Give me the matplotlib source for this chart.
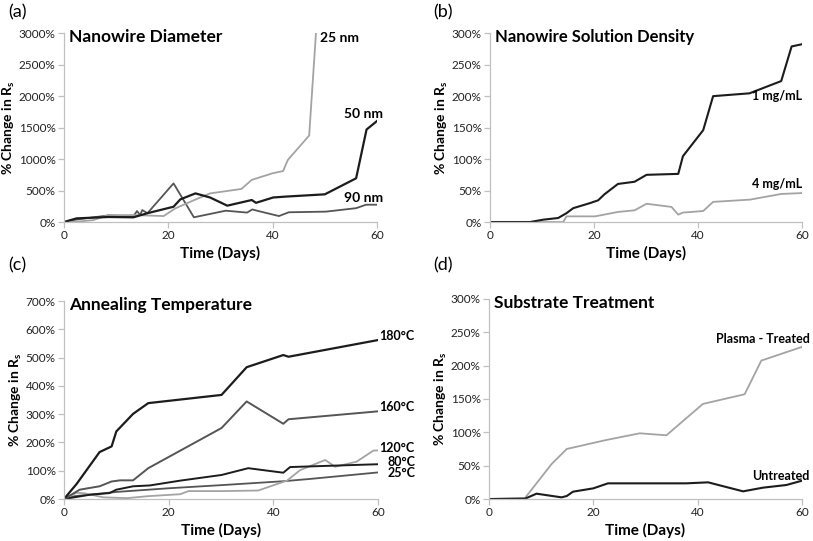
import matplotlib
matplotlib.use("Agg")
from matplotlib import pyplot as plt
from matplotlib.ticker import FuncFormatter

plt.rcParams['font.family'] = ['Lato', 'DejaVu Sans']
plt.rcParams['mathtext.fontset'] = 'custom'
plt.rcParams['mathtext.rm'] = 'Lato'
plt.rcParams['mathtext.bf'] = 'Lato:bold'

BLACK = '#1c1c1c'
DARK = '#555555'
LIGHT = '#a3a3a3'

# (a) nanowire diameter
d25_days = [0, 3, 5.6, 8.5, 13.5, 19.1, 21.3, 25, 28, 34, 36, 40, 42, 42.9, 47, 48.3]
d25_vals = [0, 10, 30, 110, 110, 95, 215, 350, 455, 525, 670, 775, 810, 985, 1375, 3000]
d50_days = [0, 2.4, 8.5, 13.3, 16, 21, 22.3, 25.2, 28, 31.3, 36, 36.8, 40.1, 42.7, 50, 56, 58, 60]
d50_vals = [0, 58, 80, 75, 140, 243, 360, 455, 390, 260, 350, 305, 390, 405, 440, 695, 1470, 1605]
d90_days = [0, 2.4, 8.5, 13.3, 14, 14.6, 15, 16, 21, 24.9, 31, 35.1, 36.1, 37, 41.2, 43.1, 50.2, 56, 57.9, 60]
d90_vals = [0, 40, 105, 90, 175, 110, 190, 140, 614, 75, 180, 150, 200, 180, 95, 155, 165, 220, 275, 275]

# (b) solution density
c1_days = [0, 7.7, 10.2, 13.1, 14.7, 16, 19.2, 20.8, 22, 24.6, 27.8, 30.1, 36.2, 37.1, 41, 42.9, 49.9, 56, 58, 60]
c1_vals = [0, 0, 3.7, 6.4, 14, 22, 30, 34.5, 44, 60.5, 64, 75, 76.5, 104.6, 146, 200, 204.5, 224, 279, 282.5]
c4_days = [0, 14.1, 14.7, 20.2, 24.6, 27.8, 30.1, 34.9, 36.2, 37.1, 41, 42.9, 50, 56, 60]
c4_vals = [0, 0, 9, 9, 16, 18.6, 29, 24, 11.7, 15, 17.5, 32, 35.6, 44.6, 46]

# (c) annealing temperature
t180_days = [0, 2.4, 6.8, 9.1, 10, 13.2, 16.1, 30.1, 34.9, 41.9, 42.9, 60]
t180_vals = [0, 53, 166, 186, 239, 301, 339, 368, 466, 509, 503, 562]
t160_days = [0, 3, 6.8, 9.1, 10.7, 13.2, 16.1, 30.1, 34.9, 41.9, 42.9, 60]
t160_vals = [0, 33, 45, 62, 66, 66, 109, 251, 345, 266, 282, 310]
t120_days = [0, 2.4, 4, 7.5, 12, 16, 22.2, 23.8, 30, 37.1, 42.6, 45.1, 49.9, 51.8, 55.9, 59.1, 60]
t120_vals = [0, 22, 20, 6, 3, 10, 17, 28, 28, 30, 65, 102, 138, 114, 132, 171, 172]
t80_days = [0, 4.9, 8.7, 10, 13.2, 16.4, 22.2, 30.1, 35.2, 41.9, 43.2, 60]
t80_vals = [0, 15, 21, 33, 45, 48, 65, 85, 109, 93, 113, 123]
t25_days = [0, 2, 10, 20, 30, 42, 47, 60]
t25_vals = [0, 10, 25, 38, 49, 63, 71, 94]

# (d) substrate treatment
pl_days = [0, 6.9, 12, 14.9, 22.5, 28.9, 34, 41, 49, 52.2, 60]
pl_vals = [0, 1.5, 52.5, 75, 88.5, 98.5, 95.5, 142.5, 157, 207.5, 228]
un_days = [0, 6.9, 9.1, 13.9, 14.9, 16.1, 20, 22.8, 29.5, 37.8, 42, 48.7, 52.5, 57, 60]
un_vals = [0, 0.5, 8, 2.5, 4.5, 11, 16, 23.5, 23.5, 23.5, 25, 11.5, 17, 21, 27.5]


def style_axes(ax, ymax, ystep, title, title_size=12.5):
    ax.set_xlim(0, 60)
    ax.set_ylim(0, ymax)
    ax.set_xticks([0, 20, 40, 60])
    ax.set_yticks(range(0, ymax + 1, ystep))
    ax.yaxis.set_major_formatter(FuncFormatter(lambda v, p: f"{int(v)}%"))
    for s in ['top', 'right']:
        ax.spines[s].set_visible(False)
    for s in ['left', 'bottom']:
        ax.spines[s].set_color('#c0c0c0')
        ax.spines[s].set_linewidth(0.9)
    ax.tick_params(axis='both', colors='#c0c0c0', labelcolor='#222222',
                   labelsize=8.5, length=4, width=0.9, direction='out', pad=2)
    ax.set_xlabel('Time (Days)', fontsize=11, fontweight='bold', labelpad=3)
    ax.set_ylabel(r'% Change in R$_\mathbf{s}$', fontsize=10, fontweight='bold', labelpad=1)
    ax.text(0.015, 1.02, title, transform=ax.transAxes, fontsize=title_size,
            fontweight='bold', va='top', ha='left')


fig = plt.figure(figsize=(8.13, 5.41), dpi=100)

ax_a = fig.add_axes([0.0787, 0.5896, 0.385, 0.349])
ax_b = fig.add_axes([0.6027, 0.5896, 0.3838, 0.349])
ax_c = fig.add_axes([0.0787, 0.0776, 0.3863, 0.366])
ax_d = fig.add_axes([0.6015, 0.0776, 0.385, 0.37])

# (a)
ax_a.plot(d90_days, d90_vals, color=DARK, lw=1.3)
ax_a.plot(d25_days, d25_vals, color=LIGHT, lw=1.3)
ax_a.plot(d50_days, d50_vals, color=BLACK, lw=1.6)
style_axes(ax_a, 3000, 500, 'Nanowire Diameter')
lab = dict(fontsize=10, fontweight='bold', ha='right', va='center', clip_on=False)
ax_a.text(56.5, 2920, '25 nm', **lab)
ax_a.text(61.2, 1720, '50 nm', **lab)
ax_a.text(61.2, 380, '90 nm', **lab)

# (b)
ax_b.plot(c4_days, c4_vals, color=LIGHT, lw=1.3)
ax_b.plot(c1_days, c1_vals, color=BLACK, lw=1.5)
style_axes(ax_b, 300, 50, 'Nanowire Solution Density', 12)
ax_b.text(60, 200, '1 mg/mL', **dict(lab, fontsize=9))
ax_b.text(60, 60, '4 mg/mL', **dict(lab, fontsize=9))

# (c)
ax_c.plot(t25_days, t25_vals, color=DARK, lw=1.3)
ax_c.plot(t120_days, t120_vals, color=LIGHT, lw=1.3)
ax_c.plot(t80_days, t80_vals, color=BLACK, lw=1.4)
ax_c.plot(t160_days, t160_vals, color=DARK, lw=1.4)
ax_c.plot(t180_days, t180_vals, color=BLACK, lw=1.6)
style_axes(ax_c, 700, 100, 'Annealing Temperature')
lab_c = dict(fontsize=9, fontweight='bold', ha='left', va='center', clip_on=False)
ax_c.text(60.3, 578, '180\u00b0C', **lab_c)
ax_c.text(60.3, 325, '160\u00b0C', **lab_c)
ax_c.text(60.3, 180, '120\u00b0C', **lab_c)
ax_c.text(61.8, 131, '80\u00b0C', **lab_c)
ax_c.text(61.8, 92, '25\u00b0C', **lab_c)

# (d)
ax_d.plot(pl_days, pl_vals, color=LIGHT, lw=1.3)
ax_d.plot(un_days, un_vals, color=BLACK, lw=1.5)
style_axes(ax_d, 300, 50, 'Substrate Treatment')
ax_d.text(61.5, 240, 'Plasma - Treated', **dict(lab, fontsize=9))
ax_d.text(61.5, 35, 'Untreated', **dict(lab, fontsize=9))

for x, y, t in [(8, 12, '(a)'), (433, 12, '(b)'), (8, 265, '(c)'), (433, 265, '(d)')]:
    fig.text(x / 813, 1 - y / 541, t, fontsize=13, ha='left', va='center')

fig.savefig('out.png', dpi=100)
